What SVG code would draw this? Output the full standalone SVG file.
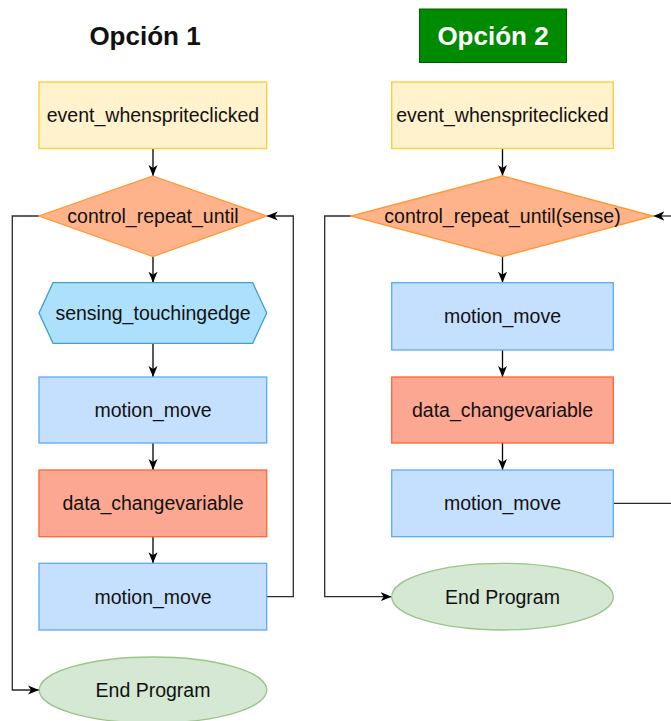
<svg xmlns="http://www.w3.org/2000/svg" width="671" height="721" viewBox="0 0 671 721">
<defs>
<marker id="ah" markerUnits="userSpaceOnUse" markerWidth="12" markerHeight="12" viewBox="0 0 12 12" refX="11" refY="6" orient="auto">
<path d="M0,1.5 L11,6 L0,10.5 L3,6 Z" fill="#000"/>
</marker>
</defs>
<style>
text{font-family:"Liberation Sans",Arial,sans-serif;font-size:19.5px;fill:#111;text-anchor:middle}
.title{font-size:26px;font-weight:bold}
.ev{fill:#fff2cc;stroke:#ffcc33;stroke-width:1.3}
.dia{fill:#ffb38a;stroke:#ff9933;stroke-width:1.3}
.hex{fill:#ade0fb;stroke:#3d9fd4;stroke-width:1.3}
.mv{fill:#c5e0fe;stroke:#5aabff;stroke-width:1.3}
.dat{fill:#fca791;stroke:#ff6633;stroke-width:1.3}
.end{fill:#d5e8d4;stroke:#9bc48a;stroke-width:1.3}
.c{fill:none;stroke:#000;stroke-width:1.3}
.l{fill:none;stroke:#2a2a2a;stroke-width:1.3}
</style>
<g id="title1"><text class="title" x="145" y="45">Opción 1</text></g>
<g id="title2"><rect x="419.5" y="9" width="147" height="53.5" fill="#008a00" stroke="#005c00" stroke-width="1"/><text class="title" x="493" y="45" style="fill:#fff">Opción 2</text></g>

<g id="connectors">
<line class="c" x1="153" y1="148" x2="153" y2="176" marker-end="url(#ah)"/>
<line class="c" x1="153" y1="256.5" x2="153" y2="282.7" marker-end="url(#ah)"/>
<line class="c" x1="153" y1="343.3" x2="153" y2="377" marker-end="url(#ah)"/>
<line class="c" x1="153" y1="443" x2="153" y2="470" marker-end="url(#ah)"/>
<line class="c" x1="153" y1="536.7" x2="153" y2="563.3" marker-end="url(#ah)"/>
<polyline class="l" points="39,216 12.3,216 12.3,690 39,690" marker-end="url(#ah)"/>
<polyline class="l" points="266.7,596.7 293.3,596.7 293.3,216 266.7,216" marker-end="url(#ah)"/>

<line class="c" x1="502.5" y1="148" x2="502.5" y2="176" marker-end="url(#ah)"/>
<line class="c" x1="502.5" y1="256.5" x2="502.5" y2="282.7" marker-end="url(#ah)"/>
<line class="c" x1="502.5" y1="350" x2="502.5" y2="377" marker-end="url(#ah)"/>
<line class="c" x1="502.5" y1="443" x2="502.5" y2="470" marker-end="url(#ah)"/>
<polyline class="l" points="351,216 324.7,216 324.7,596.7 391.7,596.7" marker-end="url(#ah)"/>
<line class="l" x1="613.3" y1="503.3" x2="672" y2="503.3"/>
<line class="l" x1="672" y1="216" x2="653.3" y2="216" marker-end="url(#ah)"/>
</g>

<g id="ev1"><rect class="ev" x="39" y="82" width="227.7" height="66.5"/><text x="153" y="122">event_whenspriteclicked</text></g>
<g id="rep1"><polygon class="dia" points="153,176 266.7,216 153,256.5 39,216"/><text x="153" y="222.5">control_repeat_until</text></g>
<g id="sense1"><polygon class="hex" points="53,282.7 252.7,282.7 266.7,313 252.7,343.3 53,343.3 39,313"/><text x="153" y="319.5">sensing_touchingedge</text></g>
<g id="move1a"><rect class="mv" x="39" y="377" width="227.7" height="66"/><text x="153" y="416.5">motion_move</text></g>
<g id="data1"><rect class="dat" x="39" y="470" width="227.7" height="66.7"/><text x="153" y="510">data_changevariable</text></g>
<g id="move1b"><rect class="mv" x="39" y="563.3" width="227.7" height="66.7"/><text x="153" y="603.5">motion_move</text></g>
<g id="end1"><ellipse class="end" cx="153" cy="690" rx="113.8" ry="33"/><text x="153" y="697">End Program</text></g>

<g id="ev2"><rect class="ev" x="391.7" y="82" width="221.6" height="66.5"/><text x="502.5" y="122">event_whenspriteclicked</text></g>
<g id="rep2"><polygon class="dia" points="502.5,176 653.3,216 502.5,256.5 351,216"/><text x="502.5" y="222.5">control_repeat_until(sense)</text></g>
<g id="move2a"><rect class="mv" x="391.7" y="282.7" width="221.6" height="67.3"/><text x="502.5" y="323">motion_move</text></g>
<g id="data2"><rect class="dat" x="391.7" y="377" width="221.6" height="66"/><text x="502.5" y="416.5">data_changevariable</text></g>
<g id="move2b"><rect class="mv" x="391.7" y="470" width="221.6" height="66.7"/><text x="502.5" y="510">motion_move</text></g>
<g id="end2"><ellipse class="end" cx="502.5" cy="596.7" rx="110.8" ry="33.3"/><text x="502.5" y="603.5">End Program</text></g>
</svg>
